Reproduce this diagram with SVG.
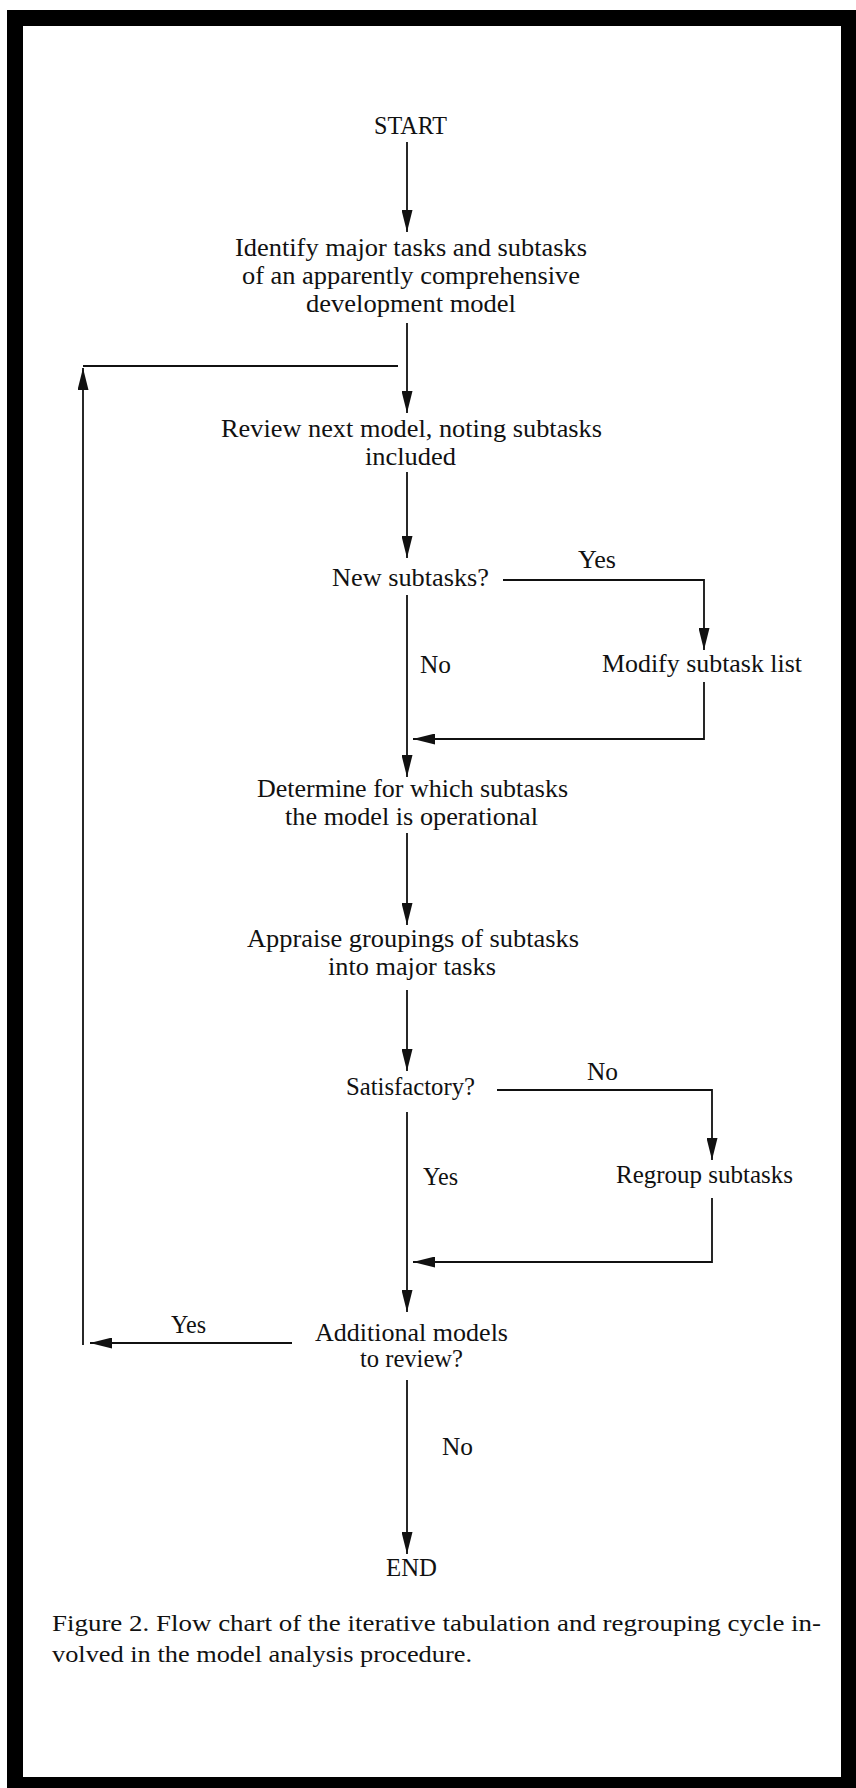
<svg xmlns="http://www.w3.org/2000/svg" width="856" height="1788" viewBox="0 0 856 1788">
<style>
  text { font-family: "Liberation Serif", "Times New Roman", serif; font-size: 25px; fill: #111; }
  .cap { font-size: 23px; }
  .c { fill: none; stroke: #111; stroke-width: 1.8; }
</style>
<defs>
  <marker id="ah" viewBox="0 0 22 11" refX="22" refY="5.5" markerWidth="22" markerHeight="11" markerUnits="userSpaceOnUse" orient="auto">
    <path d="M0,0 L22,5.5 L0,11 z" fill="#111"/>
  </marker>
</defs>
<rect width="856" height="1788" fill="#fff"/>
<path id="frame" fill="#000" fill-rule="evenodd" d="M7,10 H856 V1788 H7 Z M23,26 V1777 H841 V26 Z"/>

<g id="connectors">
  <path class="c" d="M407,142 V232" marker-end="url(#ah)"/>
  <path class="c" d="M407,323 V413" marker-end="url(#ah)"/>
  <path class="c" d="M83,366 H398"/>
  <path class="c" d="M83,1345 V368" marker-end="url(#ah)"/>
  <path class="c" d="M407,472 V558" marker-end="url(#ah)"/>
  <path class="c" d="M503,580 H704 V650" marker-end="url(#ah)"/>
  <path class="c" d="M704,682 V739 H413" marker-end="url(#ah)"/>
  <path class="c" d="M407,595 V777" marker-end="url(#ah)"/>
  <path class="c" d="M407,833 V925" marker-end="url(#ah)"/>
  <path class="c" d="M407,990 V1071" marker-end="url(#ah)"/>
  <path class="c" d="M497,1090 H712 V1160" marker-end="url(#ah)"/>
  <path class="c" d="M712,1198 V1262 H413" marker-end="url(#ah)"/>
  <path class="c" d="M407,1112 V1312" marker-end="url(#ah)"/>
  <path class="c" d="M292,1343 H90" marker-end="url(#ah)"/>
  <path class="c" d="M407,1380 V1554" marker-end="url(#ah)"/>
</g>

<g id="start"><text x="374" y="134" textLength="73" lengthAdjust="spacingAndGlyphs">START</text></g>
<g id="identify">
  <text x="235" y="256" textLength="352" lengthAdjust="spacingAndGlyphs">Identify major tasks and subtasks</text>
  <text x="242" y="284" textLength="338" lengthAdjust="spacingAndGlyphs">of an apparently comprehensive</text>
  <text x="306" y="312" textLength="210" lengthAdjust="spacingAndGlyphs">development model</text>
</g>
<g id="review">
  <text x="221" y="437" textLength="381" lengthAdjust="spacingAndGlyphs">Review next model, noting subtasks</text>
  <text x="365" y="465" textLength="91" lengthAdjust="spacingAndGlyphs">included</text>
</g>
<g id="newsubtasks"><text x="332" y="586" textLength="157" lengthAdjust="spacingAndGlyphs">New subtasks?</text></g>
<g id="lbl-yes1"><text x="578" y="568" textLength="38" lengthAdjust="spacingAndGlyphs">Yes</text></g>
<g id="modify"><text x="602" y="672" textLength="200" lengthAdjust="spacingAndGlyphs">Modify subtask list</text></g>
<g id="lbl-no1"><text x="420" y="673" textLength="31" lengthAdjust="spacingAndGlyphs">No</text></g>
<g id="determine">
  <text x="257" y="797" textLength="311" lengthAdjust="spacingAndGlyphs">Determine for which subtasks</text>
  <text x="285" y="825" textLength="253" lengthAdjust="spacingAndGlyphs">the model is operational</text>
</g>
<g id="appraise">
  <text x="247" y="947" textLength="332" lengthAdjust="spacingAndGlyphs">Appraise groupings of subtasks</text>
  <text x="328" y="975" textLength="168" lengthAdjust="spacingAndGlyphs">into major tasks</text>
</g>
<g id="satisfactory"><text x="346" y="1095" textLength="129" lengthAdjust="spacingAndGlyphs">Satisfactory?</text></g>
<g id="lbl-no2"><text x="587" y="1080" textLength="31" lengthAdjust="spacingAndGlyphs">No</text></g>
<g id="regroup"><text x="616" y="1183" textLength="177" lengthAdjust="spacingAndGlyphs">Regroup subtasks</text></g>
<g id="lbl-yes2"><text x="423" y="1185" textLength="35" lengthAdjust="spacingAndGlyphs">Yes</text></g>
<g id="additional">
  <text x="315" y="1341" textLength="193" lengthAdjust="spacingAndGlyphs">Additional models</text>
  <text x="360" y="1367" textLength="103" lengthAdjust="spacingAndGlyphs">to review?</text>
</g>
<g id="lbl-yes3"><text x="171" y="1333" textLength="35" lengthAdjust="spacingAndGlyphs">Yes</text></g>
<g id="lbl-no3"><text x="442" y="1455" textLength="31" lengthAdjust="spacingAndGlyphs">No</text></g>
<g id="end"><text x="386" y="1576" textLength="51" lengthAdjust="spacingAndGlyphs">END</text></g>

<g id="caption">
  <text class="cap" x="52" y="1631" textLength="769" lengthAdjust="spacingAndGlyphs">Figure 2. Flow chart of the iterative tabulation and regrouping cycle in-</text>
  <text class="cap" x="52" y="1662" textLength="420" lengthAdjust="spacingAndGlyphs">volved in the model analysis procedure.</text>
</g>
</svg>
